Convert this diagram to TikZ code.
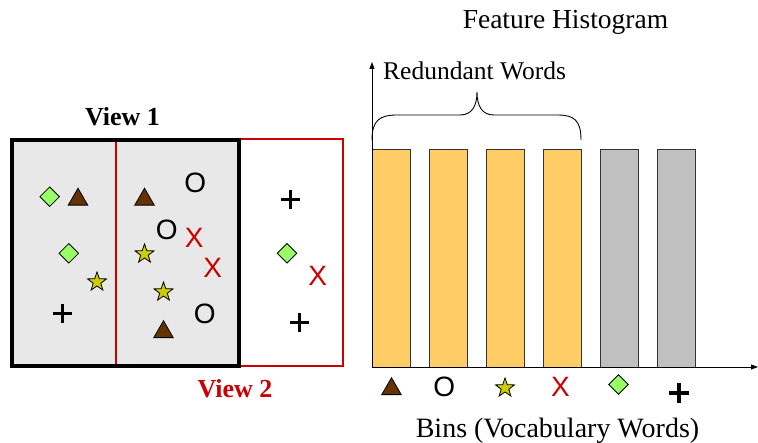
\documentclass[tikz,border=0pt]{standalone}
\usepackage{fontspec}
\setmainfont{Liberation Serif}
\newfontfamily\symfont{Liberation Sans}
\usetikzlibrary{shapes.geometric, arrows.meta}

\definecolor{viewred}{RGB}{204,0,0}
\definecolor{viewgray}{RGB}{232,232,232}
\definecolor{barorange}{RGB}{255,204,102}
\definecolor{bargray}{RGB}{192,192,192}
\definecolor{tribrown}{RGB}{102,51,0}
\definecolor{diagreen}{RGB}{153,255,102}
\definecolor{staryellow}{RGB}{204,204,0}

\tikzset{
  tri/.style={regular polygon, regular polygon sides=3, minimum size=22.5pt,
    inner sep=0pt, outer sep=0pt, fill=tribrown, draw=black, line width=0.8pt},
  dia/.style={diamond, minimum width=19.5pt, minimum height=19.5pt,
    inner sep=0pt, outer sep=0pt, fill=diagreen, draw=black, line width=0.8pt},
  starsym/.style={star, star points=5, star point ratio=2.5, minimum size=20pt,
    inner sep=0pt, outer sep=0pt, fill=staryellow, draw=black, line width=0.8pt},
  osym/.style={inner sep=0pt, font=\symfont\fontsize{28}{28}\selectfont},
  xsym/.style={inner sep=0pt, text=viewred, font=\symfont\fontsize{28}{28}\selectfont},
  plussym/.pic={\draw[line width=3.3pt] (-9.7,0) -- (9.7,0) (0,-9.7) -- (0,9.7);},
  label/.style={inner sep=0pt, anchor=base, font=\fontsize{28}{31}\selectfont},
  viewlabel/.style={inner sep=0pt, anchor=base, font=\bfseries\fontsize{26}{29}\selectfont},
  bar/.style={draw=black!80, line width=0.8pt},
  axis/.style={line width=0.9pt, -{Triangle[length=7pt,width=5pt]}},
}

\begin{document}
\begin{tikzpicture}[x=1pt, y=-1pt]
\useasboundingbox (0,0) rectangle (758,443);

% the two overlapping views
\fill[viewgray] (12,139.7) rectangle (239.3,366);
\draw[viewred, line width=2pt] (116,139.3) rectangle (343.3,366.3);
\draw[black, line width=4pt] (12,139.7) rectangle (239.3,366);

\node[viewlabel] (v1) at (122.5,126) {View 1};
\node[viewlabel, text=viewred] (v2) at (235,398) {View 2};

% features in the views
\node[dia] (d1) at (49.7,196.7) {};
\node[tri] (t1) at (78,199.5) {};
\node[dia] (d2) at (68.8,253.3) {};
\node[starsym] (s1) at (97,282) {};
\pic (p1) at (62.5,313.5) {plussym};

\node[tri] (t2) at (144.5,199.5) {};
\node[osym] (o1) at (195.3,182.5) {O};
\node[osym] (o2) at (166.7,229.5) {O};
\node[xsym] (x1) at (194.3,237.5) {X};
\node[starsym] (s2) at (144.5,254) {};
\node[xsym] (x2) at (212.7,267.5) {X};
\node[starsym] (s3) at (163.5,292) {};
\node[osym] (o3) at (204.7,313.7) {O};
\node[tri] (t3) at (163.5,332) {};

\pic (p2) at (290.3,199.6) {plussym};
\node[dia] (d3) at (287,253.3) {};
\node[xsym] (x3) at (317.7,276) {X};
\pic (p3) at (299.5,322.5) {plussym};

% histogram
\node[label, font=\fontsize{27.5}{30}\selectfont] (title) at (565.5,29) {Feature Histogram};

\fill[barorange] (372,149) rectangle (410,367);
\draw[bar] (372,149) rectangle (410,367);
\fill[barorange] (429,149) rectangle (467,367);
\draw[bar] (429,149) rectangle (467,367);
\fill[barorange] (486,149) rectangle (524,367);
\draw[bar] (486,149) rectangle (524,367);
\fill[barorange] (543,149) rectangle (581,367);
\draw[bar] (543,149) rectangle (581,367);
\fill[bargray] (600,149) rectangle (638,367);
\draw[bar] (600,149) rectangle (638,367);
\fill[bargray] (657,149) rectangle (695,367);
\draw[bar] (657,149) rectangle (695,367);

\coordinate (origin) at (372,367);
\coordinate (ytop) at (372,62);
\coordinate (xend) at (758,367);
\draw[axis] (origin) -- (ytop);
\draw[axis] (origin) -- (xend);

% brace over the redundant bins
\draw[line width=0.9pt] (372,140) .. controls (372,120) and (380,115) .. (397,115)
  -- (460,115) .. controls (472,115) and (477,106) .. (477,92)
  .. controls (477,106) and (482,115) .. (494,115)
  -- (557,115) .. controls (574,115) and (581,120) .. (581,140);
\node[label, anchor=base west, font=\fontsize{25.5}{28}\selectfont] (redund) at (383,80) {Redundant Words};

% bin labels
\node[tri] (bt) at (391.5,389) {};
\node[osym] (bo) at (444.3,386.5) {O};
\node[starsym] (bs) at (505,388) {};
\node[xsym] (bx) at (560.5,386.7) {X};
\node[dia] (bd) at (618.5,384.5) {};
\pic (bp) at (679,393) {plussym};

\node[label] (bins) at (557.5,438) {Bins (Vocabulary Words)};
\end{tikzpicture}
\end{document}
